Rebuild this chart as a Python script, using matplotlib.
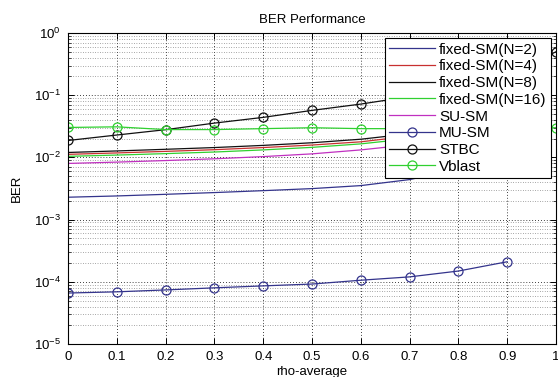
import matplotlib
matplotlib.use("Agg")
import matplotlib.pyplot as plt
from matplotlib.ticker import LogLocator, NullFormatter, FixedLocator

plt.rcParams['font.family'] = ['Liberation Sans', 'DejaVu Sans']
plt.rcParams['mathtext.fontset'] = 'custom'
plt.rcParams['mathtext.rm'] = 'Liberation Sans'
plt.rcParams['mathtext.it'] = 'Liberation Sans:italic'
plt.rcParams['mathtext.bf'] = 'Liberation Sans:bold'

# ---- data ----
rho = [0.0, 0.1, 0.2, 0.3, 0.4, 0.5, 0.6, 0.7, 0.8, 0.9, 1.0]
rho9 = [0.0, 0.1, 0.2, 0.3, 0.4, 0.5, 0.6, 0.7, 0.8, 0.9]

fixed_n2 = [2.29e-3, 2.40e-3, 2.55e-3, 2.72e-3, 2.92e-3, 3.15e-3, 3.52e-3, 4.4e-3, 6.5e-3, 1.0e-2]
fixed_n4 = [0.0112, 0.0118, 0.0125, 0.0133, 0.0144, 0.0158, 0.0178, 0.022, 0.029, 0.041]
fixed_n8 = [0.0120, 0.0127, 0.0135, 0.0144, 0.0156, 0.0172, 0.0196, 0.024, 0.032, 0.045]
fixed_n16 = [0.0104, 0.0109, 0.0115, 0.0122, 0.0132, 0.0145, 0.0165, 0.020, 0.027, 0.038]
su_sm = [0.0080, 0.0084, 0.0089, 0.0095, 0.0103, 0.0114, 0.0132, 0.016, 0.021, 0.030]
mu_sm = [6.6e-5, 6.9e-5, 7.4e-5, 8.0e-5, 8.6e-5, 9.2e-5, 1.06e-4, 1.2e-4, 1.49e-4, 2.1e-4]
stbc = [0.0187, 0.0229, 0.0279, 0.0356, 0.044, 0.057, 0.072, 0.095, 0.13, 0.2, 0.5]
vblast = [0.0303, 0.031, 0.028, 0.028, 0.029, 0.030, 0.029, 0.029, 0.030, 0.030, 0.030]

xticks = [0, 0.1, 0.2, 0.3, 0.4, 0.5, 0.6, 0.7, 0.8, 0.9, 1]
xticklabels = ['0', '0.1', '0.2', '0.3', '0.4', '0.5', '0.6', '0.7', '0.8', '0.9', '1']

# ---- figure ----
fig = plt.figure(figsize=(5.58, 3.77), dpi=100)
ax = fig.add_axes([68/558, 1-344/377, (556-68)/558, (344-33)/377])

lw = 0.9
c_navy = '#34348c'
c_red = '#c83030'
c_black = '#101010'
c_green = '#30d030'
c_mag = '#c030c0'

ax.plot(rho9, fixed_n2, color=c_navy, lw=lw, label='fixed-SM(N=2)')
ax.plot(rho9, fixed_n4, color=c_red, lw=lw, label='fixed-SM(N=4)')
ax.plot(rho9, fixed_n8, color=c_black, lw=lw, label='fixed-SM(N=8)')
ax.plot(rho9, fixed_n16, color=c_green, lw=lw, label='fixed-SM(N=16)')
ax.plot(rho9, su_sm, color=c_mag, lw=lw, label='SU-SM')
ax.plot(rho9, mu_sm, color=c_navy, lw=lw, marker='o', ms=6.5, mfc='none', mew=0.9, label='MU-SM')
ax.plot(rho, stbc, color=c_black, lw=lw, marker='o', ms=6.5, mfc='none', mew=0.9, label='STBC')
ax.plot(rho, vblast, color=c_green, lw=lw, marker='o', ms=6.5, mfc='none', mew=0.9, label='Vblast')

ax.set_yscale('log')
ax.set_xlim(0, 1)
ax.set_ylim(1e-5, 1)
ax.xaxis.set_major_locator(FixedLocator(xticks))
ax.set_xticklabels(xticklabels)
ax.yaxis.set_major_locator(LogLocator(base=10, numticks=10))
ax.yaxis.set_minor_locator(LogLocator(base=10, subs=range(2, 10), numticks=20))
ax.yaxis.set_minor_formatter(NullFormatter())

ax.tick_params(which='both', direction='in', top=True, right=True, labelsize=9.5, pad=5)
ax.tick_params(which='major', length=4, width=0.7)
ax.tick_params(which='minor', length=2, width=0.5)

ax.grid(True, which='major', axis='both', linestyle=(0, (1, 2.5)), color='black', linewidth=0.6)
ax.grid(True, which='minor', axis='y', linestyle=(0, (1, 2.5)), color='#555555', linewidth=0.5)
for s in ax.spines.values():
    s.set_linewidth(0.8)

ax.set_title('BER Performance', fontsize=9.5, pad=7)
ax.set_xlabel('rho-average', fontsize=9.5, labelpad=2)
ax.set_ylabel('BER', fontsize=9.5, labelpad=8)

leg = ax.legend(loc='upper right', bbox_to_anchor=(0.99, 0.984), borderaxespad=0,
                fontsize=11, handlelength=3.0, handletextpad=0.25, labelspacing=0.18,
                borderpad=0.3, fancybox=False, framealpha=1, edgecolor='black')
leg.get_frame().set_linewidth(0.8)

fig.savefig('out.png', dpi=100)
